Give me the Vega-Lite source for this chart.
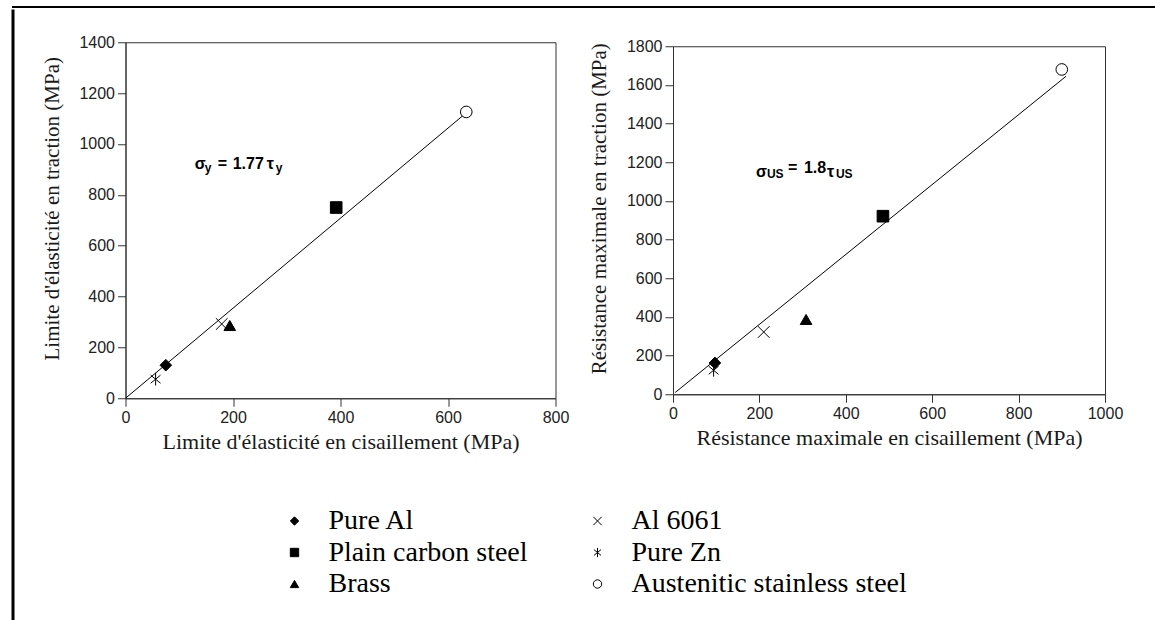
{
  "$schema": "https://vega.github.io/schema/vega-lite/v6.json",
  "background": "white",
  "padding": {"left": 11, "top": 6, "right": 0, "bottom": 0},
  "datasets": {
    "points": [
      {"panel": "yield", "material": "Pure Al", "shear": 75, "tensile": 130},
      {"panel": "yield", "material": "Al 6061", "shear": 179, "tensile": 292},
      {"panel": "yield", "material": "Plain carbon steel", "shear": 392, "tensile": 750},
      {"panel": "yield", "material": "Pure Zn", "shear": 56, "tensile": 75},
      {"panel": "yield", "material": "Brass", "shear": 194, "tensile": 286},
      {"panel": "yield", "material": "Austenitic stainless steel", "shear": 634, "tensile": 1126},
      {"panel": "ultimate", "material": "Pure Al", "shear": 97, "tensile": 162},
      {"panel": "ultimate", "material": "Al 6061", "shear": 210, "tensile": 322},
      {"panel": "ultimate", "material": "Plain carbon steel", "shear": 486, "tensile": 921},
      {"panel": "ultimate", "material": "Pure Zn", "shear": 94, "tensile": 124},
      {"panel": "ultimate", "material": "Brass", "shear": 308, "tensile": 387},
      {"panel": "ultimate", "material": "Austenitic stainless steel", "shear": 900, "tensile": 1680}
    ],
    "fits": [
      {"panel": "yield", "shear": 0, "tensile": 0},
      {"panel": "yield", "shear": 628, "tensile": 1112},
      {"panel": "ultimate", "shear": 5, "tensile": 9},
      {"panel": "ultimate", "shear": 910, "tensile": 1645}
    ],
    "empty": []
  },
  "config": {
    "view": {"stroke": "#333"},
    "font": "Liberation Sans",
    "axis": {
      "grid": false, "domainColor": "#333", "tickColor": "#333", "tickSize": 8,
      "labelFont": "Liberation Sans", "labelFontSize": 16, "labelColor": "#222", "labelPadding": 3,
      "labelFlush": false, "labelOverlap": false,
      "titleFont": "Liberation Serif", "titleFontWeight": "normal", "titleColor": "#1a1a1a"
    },
    "axisX": {"titleFontSize": 22, "titlePadding": 6},
    "axisY": {"titleFontSize": 21, "titlePadding": 16.5},
    "legend": {
      "labelFont": "Liberation Serif", "labelFontSize": 28, "labelColor": "black",
      "symbolSize": 70, "symbolStrokeColor": "black", "symbolStrokeWidth": 1,
      "rowPadding": 3.5, "columnPadding": 55, "labelOffset": 20, "labelLimit": 0, "padding": 0
    }
  },
  "spacing": 0,
  "vconcat": [
    {"data": {"name": "empty"}, "mark": {"type": "rule"}, "encoding": {}, "width": 1142, "height": 0.01, "view": {"stroke": "black", "strokeWidth": 2}},
    {
      "spacing": 32,
      "hconcat": [
        {
          "spacing": 25.5,
          "hconcat": [
            {"data": {"name": "empty"}, "mark": {"type": "rule"}, "encoding": {}, "width": 0.01, "height": 614, "view": {"stroke": "black", "strokeWidth": 3}},
            {
              "spacing": 21,
              "vconcat": [
                {"data": {"name": "empty"}, "mark": {"type": "rule"}, "encoding": {}, "width": 1, "height": 0.01, "view": {"stroke": null}},
                {
                  "spacing": 18.5,
                  "center": true,
                  "hconcat": [
                    {
                      "width": 430, "height": 356,
                      "layer": [
                        {
                          "data": {"name": "fits"},
                          "transform": [{"filter": "datum.panel === 'yield'"}],
                          "mark": {"type": "line", "color": "black", "strokeWidth": 1},
                          "encoding": {
                            "x": {"field": "shear", "type": "quantitative", "scale": {"domain": [0, 800], "nice": false},
                              "axis": {"title": "Limite d'élasticité en cisaillement (MPa)", "values": [0, 200, 400, 600, 800], "format": "d", "labelOverlap": false}},
                            "y": {"field": "tensile", "type": "quantitative", "scale": {"domain": [0, 1400], "nice": false},
                              "axis": {"title": "Limite d'élasticité en traction (MPa)", "values": [0, 200, 400, 600, 800, 1000, 1200, 1400], "format": "d", "titleY": 166, "labelOverlap": false}}
                          }
                        },
                        {
                          "data": {"name": "points"},
                          "transform": [{"filter": "datum.panel === 'yield'"}],
                          "mark": {"type": "point", "size": 135, "strokeWidth": 1, "opacity": 1, "fillOpacity": 1, "strokeOpacity": 1},
                          "encoding": {
                            "x": {"field": "shear", "type": "quantitative"},
                            "y": {"field": "tensile", "type": "quantitative"},
                            "shape": {"field": "material", "type": "nominal",
                              "scale": {"domain": ["Pure Al", "Plain carbon steel", "Brass", "Al 6061", "Pure Zn", "Austenitic stainless steel"],
                                "range": ["diamond", "square", "triangle-up", "M-1,-1L1,1M-1,1L1,-1", "M-0.85,-0.7L0.85,0.7M-0.85,0.7L0.85,-0.7M0,-1.1L0,1.1", "circle"]},
                              "legend": {"orient": "none", "legendX": 267.5, "legendY": 500, "columns": 2, "title": null}},
                            "fill": {"field": "material", "type": "nominal",
                              "scale": {"domain": ["Pure Al", "Plain carbon steel", "Brass", "Al 6061", "Pure Zn", "Austenitic stainless steel"],
                                "range": ["black", "black", "black", "transparent", "transparent", "white"]},
                              "legend": {"orient": "none", "legendX": 267.5, "legendY": 500, "columns": 2, "title": null}},
                            "stroke": {"field": "material", "type": "nominal",
                              "scale": {"domain": ["Pure Al", "Plain carbon steel", "Brass", "Al 6061", "Pure Zn", "Austenitic stainless steel"],
                                "range": ["black", "black", "black", "black", "black", "black"]},
                              "legend": {"orient": "none", "legendX": 267.5, "legendY": 500, "columns": 2, "title": null}}
                          }
                        },
                        {"data": {"values": [{"t": "σ"}]}, "mark": {"type": "text", "font": "Liberation Sans", "fontWeight": "bold", "fontSize": 16, "align": "left", "baseline": "alphabetic", "dx": 0, "dy": 0, "color": "black"},
                          "encoding": {"text": {"field": "t"}, "x": {"datum": 128.7}, "y": {"datum": 903}}},
                        {"data": {"values": [{"t": "y"}]}, "mark": {"type": "text", "font": "Liberation Sans", "fontWeight": "bold", "fontSize": 12, "align": "left", "baseline": "alphabetic", "dx": 10, "dy": 3, "color": "black"},
                          "encoding": {"text": {"field": "t"}, "x": {"datum": 128.7}, "y": {"datum": 903}}},
                        {"data": {"values": [{"t": "="}]}, "mark": {"type": "text", "font": "Liberation Sans", "fontWeight": "bold", "fontSize": 16, "align": "left", "baseline": "alphabetic", "dx": 23, "dy": 0, "color": "black"},
                          "encoding": {"text": {"field": "t"}, "x": {"datum": 128.7}, "y": {"datum": 903}}},
                        {"data": {"values": [{"t": "1.77"}]}, "mark": {"type": "text", "font": "Liberation Sans", "fontWeight": "bold", "fontSize": 16, "align": "left", "baseline": "alphabetic", "dx": 38, "dy": 0, "color": "black"},
                          "encoding": {"text": {"field": "t"}, "x": {"datum": 128.7}, "y": {"datum": 903}}},
                        {"data": {"values": [{"t": "τ"}]}, "mark": {"type": "text", "font": "Liberation Sans", "fontWeight": "bold", "fontSize": 16, "align": "left", "baseline": "alphabetic", "dx": 72, "dy": 0, "color": "black"},
                          "encoding": {"text": {"field": "t"}, "x": {"datum": 128.7}, "y": {"datum": 903}}},
                        {"data": {"values": [{"t": "y"}]}, "mark": {"type": "text", "font": "Liberation Sans", "fontWeight": "bold", "fontSize": 12, "align": "left", "baseline": "alphabetic", "dx": 81, "dy": 3, "color": "black"},
                          "encoding": {"text": {"field": "t"}, "x": {"datum": 128.7}, "y": {"datum": 903}}}
                      ]
                    },
                    {
                      "width": 432, "height": 348,
                      "layer": [
                        {
                          "data": {"name": "fits"},
                          "transform": [{"filter": "datum.panel === 'ultimate'"}],
                          "mark": {"type": "line", "color": "black", "strokeWidth": 1},
                          "encoding": {
                            "x": {"field": "shear", "type": "quantitative", "scale": {"domain": [0, 1000], "nice": false},
                              "axis": {"title": "Résistance maximale en cisaillement (MPa)", "values": [0, 200, 400, 600, 800, 1000], "format": "d", "labelOverlap": false}},
                            "y": {"field": "tensile", "type": "quantitative", "scale": {"domain": [0, 1800], "nice": false},
                              "axis": {"title": "Résistance maximale en traction (MPa)", "tickCount": 9, "format": "d", "titleY": 162, "labelOverlap": false, "labelSeparation": 0}}
                          }
                        },
                        {
                          "data": {"name": "points"},
                          "transform": [{"filter": "datum.panel === 'ultimate'"}],
                          "mark": {"type": "point", "size": 135, "strokeWidth": 1, "opacity": 1, "fillOpacity": 1, "strokeOpacity": 1},
                          "encoding": {
                            "x": {"field": "shear", "type": "quantitative"},
                            "y": {"field": "tensile", "type": "quantitative"},
                            "shape": {"field": "material", "type": "nominal",
                              "scale": {"domain": ["Pure Al", "Plain carbon steel", "Brass", "Al 6061", "Pure Zn", "Austenitic stainless steel"],
                                "range": ["diamond", "square", "triangle-up", "M-1,-1L1,1M-1,1L1,-1", "M-0.85,-0.7L0.85,0.7M-0.85,0.7L0.85,-0.7M0,-1.1L0,1.1", "circle"]},
                              "legend": {"orient": "none", "legendX": 267.5, "legendY": 500, "columns": 2, "title": null}},
                            "fill": {"field": "material", "type": "nominal",
                              "scale": {"domain": ["Pure Al", "Plain carbon steel", "Brass", "Al 6061", "Pure Zn", "Austenitic stainless steel"],
                                "range": ["black", "black", "black", "transparent", "transparent", "white"]},
                              "legend": {"orient": "none", "legendX": 267.5, "legendY": 500, "columns": 2, "title": null}},
                            "stroke": {"field": "material", "type": "nominal",
                              "scale": {"domain": ["Pure Al", "Plain carbon steel", "Brass", "Al 6061", "Pure Zn", "Austenitic stainless steel"],
                                "range": ["black", "black", "black", "black", "black", "black"]},
                              "legend": {"orient": "none", "legendX": 267.5, "legendY": 500, "columns": 2, "title": null}}
                          }
                        },
                        {"data": {"values": [{"t": "σ"}]}, "mark": {"type": "text", "font": "Liberation Sans", "fontWeight": "bold", "fontSize": 16, "align": "left", "baseline": "alphabetic", "dx": 0, "dy": 4, "color": "black"},
                          "encoding": {"text": {"field": "t"}, "x": {"datum": 192}, "y": {"datum": 1142}}},
                        {"data": {"values": [{"t": "US"}]}, "mark": {"type": "text", "font": "Liberation Sans", "fontWeight": "bold", "fontSize": 12, "align": "left", "baseline": "alphabetic", "dx": 11, "dy": 5, "color": "black"},
                          "encoding": {"text": {"field": "t"}, "x": {"datum": 192}, "y": {"datum": 1142}}},
                        {"data": {"values": [{"t": "="}]}, "mark": {"type": "text", "font": "Liberation Sans", "fontWeight": "bold", "fontSize": 16, "align": "left", "baseline": "alphabetic", "dx": 32, "dy": 0, "color": "black"},
                          "encoding": {"text": {"field": "t"}, "x": {"datum": 192}, "y": {"datum": 1142}}},
                        {"data": {"values": [{"t": "1.8"}]}, "mark": {"type": "text", "font": "Liberation Sans", "fontWeight": "bold", "fontSize": 16, "align": "left", "baseline": "alphabetic", "dx": 48, "dy": 0, "color": "black"},
                          "encoding": {"text": {"field": "t"}, "x": {"datum": 192}, "y": {"datum": 1142}}},
                        {"data": {"values": [{"t": "τ"}]}, "mark": {"type": "text", "font": "Liberation Sans", "fontWeight": "bold", "fontSize": 16, "align": "left", "baseline": "alphabetic", "dx": 71, "dy": 4, "color": "black"},
                          "encoding": {"text": {"field": "t"}, "x": {"datum": 192}, "y": {"datum": 1142}}},
                        {"data": {"values": [{"t": "US"}]}, "mark": {"type": "text", "font": "Liberation Sans", "fontWeight": "bold", "fontSize": 12, "align": "left", "baseline": "alphabetic", "dx": 80, "dy": 5, "color": "black"},
                          "encoding": {"text": {"field": "t"}, "x": {"datum": 192}, "y": {"datum": 1142}}}
                      ]
                    }
                  ]
                }
              ]
            }
          ]
        },
        {"data": {"name": "empty"}, "mark": {"type": "rule"}, "encoding": {}, "width": 0.01, "height": 614, "view": {"stroke": "black", "strokeWidth": 1.5}}
      ]
    }
  ]
}
